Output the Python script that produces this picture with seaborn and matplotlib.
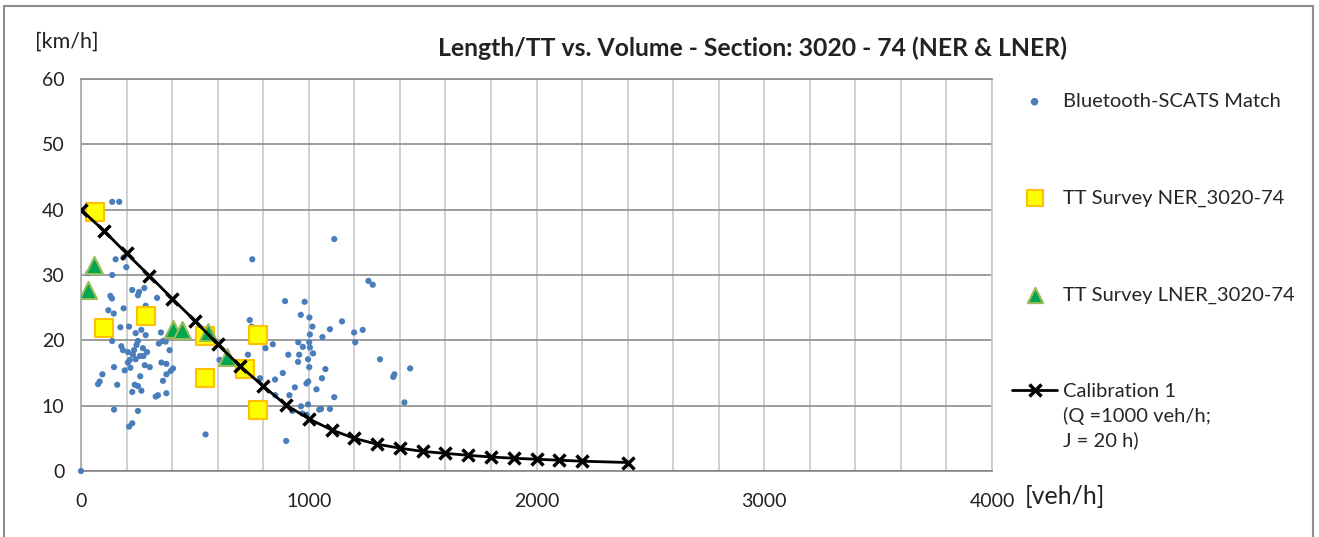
import numpy as np
import pandas as pd
import matplotlib
matplotlib.use("Agg")
import matplotlib.pyplot as plt
import seaborn as sns
from matplotlib.patches import Rectangle

# Bluetooth-SCATS matched observations (volume veh/h, speed km/h)
bt_volume = [0, 137, 168, 32, 137, 152, 187, 199, 225, 255, 278, 250, 129, 136, 334, 284,
             120, 144, 187, 173, 211, 240, 265, 284, 351, 137, 177, 184, 244, 233, 272, 342,
             360, 372, 389, 228, 274, 214, 206, 240, 280, 302, 145, 192, 217, 353, 375, 404,
             394, 375, 94, 82, 75, 159, 260, 236, 250, 225, 265, 360, 338, 328, 375, 145,
             250, 225, 211, 250, 206, 259, 290,
             547, 608, 733, 741, 749, 752, 786, 810, 842, 852, 853, 886, 896, 901, 910, 915,
             929, 939, 954, 953, 958, 965, 966, 974, 972, 982, 990, 991, 997, 997, 998, 1005,
             1002, 1005, 1003, 1002, 1016, 1019, 1034, 1046, 1054, 1093, 1058, 1060, 1073, 1093,
             1112, 1112, 1146, 1199, 1204, 1237, 1262, 1281, 1313, 1376, 1371, 1445, 1420]
bt_speed = [0, 41.2, 41.2, 30.3, 30.0, 32.4, 32.7, 31.2, 27.7, 27.4, 28.0, 26.9, 26.8, 26.4, 26.5, 25.3,
            24.6, 24.1, 24.9, 22.0, 22.1, 21.1, 21.6, 20.8, 21.2, 19.9, 19.1, 18.5, 19.3, 18.5, 18.8, 19.5,
            19.9, 19.8, 18.5, 17.8, 17.6, 17.0, 16.6, 17.1, 16.2, 15.9, 15.9, 15.4, 15.8, 16.6, 16.4, 15.7,
            15.3, 14.8, 14.8, 13.7, 13.3, 13.2, 14.5, 13.2, 13.0, 12.1, 12.3, 13.8, 11.6, 11.4, 11.9, 9.4,
            9.2, 7.3, 6.8, 19.9, 18.2, 17.6, 18.2,
            5.6, 17.0, 17.8, 23.1, 22.1, 32.4, 14.2, 18.8, 19.4, 14.0, 11.6, 15.0, 26.0, 4.6, 17.8, 11.6,
            9.2, 12.8, 19.7, 16.7, 17.8, 23.9, 9.9, 19.0, 8.8, 25.9, 13.4, 8.6, 17.1, 10.2, 13.7, 20.9,
            19.7, 18.9, 23.5, 15.9, 22.1, 18.0, 12.5, 9.4, 9.5, 9.5, 14.2, 20.5, 15.6, 21.7,
            35.5, 11.3, 22.9, 21.2, 19.7, 21.6, 29.1, 28.5, 17.1, 14.8, 14.4, 15.7, 10.5]

# Travel time surveys
ner_volume = [61, 101, 285, 544, 544, 720, 777, 777]
ner_speed = [39.7, 21.9, 23.7, 20.7, 14.2, 15.6, 20.8, 9.3]
lner_volume = [31, 58, 405, 445, 559, 640]
lner_speed = [27.7, 31.5, 21.8, 21.6, 21.2, 17.5]

# Calibration 1 curve
calib_volume = [0, 100, 200, 300, 400, 500, 600, 700, 800, 900, 1000, 1100, 1200, 1300,
                1400, 1500, 1600, 1700, 1800, 1900, 2000, 2100, 2200, 2400]
calib_speed = [40.0, 36.8, 33.3, 29.9, 26.4, 23.0, 19.4, 16.0, 13.0, 10.1, 8.0, 6.3, 5.0, 4.1,
               3.5, 3.0, 2.7, 2.4, 2.15, 1.95, 1.8, 1.65, 1.5, 1.3]

bt = pd.DataFrame({"volume": bt_volume, "speed": bt_speed})
ner = pd.DataFrame({"volume": ner_volume, "speed": ner_speed})
lner = pd.DataFrame({"volume": lner_volume, "speed": lner_speed})
calib = pd.DataFrame({"volume": calib_volume, "speed": calib_speed})

sns.set_theme(style="white")
plt.rcParams["font.family"] = ["Lato", "DejaVu Sans"]

fig = plt.figure(figsize=(13.19, 5.37), dpi=100)
ax = fig.add_axes([81 / 1319, 1 - 471 / 537, (992 - 81) / 1319, (471 - 79) / 537])

sns.scatterplot(data=bt, x="volume", y="speed", ax=ax, color="#4a7ebb", s=20,
                edgecolor="none", label="Bluetooth-SCATS Match", zorder=3, clip_on=False)
sns.scatterplot(data=ner, x="volume", y="speed", ax=ax, color="#ffff00", marker="s", s=150,
                edgecolor="#ffc000", linewidth=1.5, label="TT Survey NER_3020-74", zorder=4)
sns.scatterplot(data=lner, x="volume", y="speed", ax=ax, color="#00a651", marker="^", s=150,
                edgecolor="#9bbb59", linewidth=1.5, label="TT Survey LNER_3020-74", zorder=4)
sns.lineplot(data=calib, x="volume", y="speed", ax=ax, color="black", linewidth=2,
             marker="x", markersize=8, markeredgewidth=2.5, markeredgecolor="black",
             label="Calibration 1\n(Q =1000 veh/h;\nJ = 20 h)", zorder=5)

ax.set_xlim(0, 4000)
ax.set_ylim(0, 60)
ax.set_xticks(np.arange(0, 4001, 1000))
ax.set_xticks(np.arange(0, 4001, 200), minor=True)
ax.set_yticks(np.arange(0, 61, 10))
ax.grid(which="minor", axis="x", color="#c8c8c8", linewidth=1.2)
ax.grid(which="major", axis="x", color="#c8c8c8", linewidth=1.2)
ax.grid(which="major", axis="y", color="#8c8c8c", linewidth=1.2)
ax.set_axisbelow(True)
ax.set_xlabel("")
ax.set_ylabel("")
ax.tick_params(axis="both", which="major", labelsize=14, colors="#222222",
               length=5, width=1, direction="out")
ax.tick_params(axis="x", which="major", pad=11, color="#8c8c8c")
ax.tick_params(axis="y", which="major", pad=7, color="#8c8c8c")
ax.tick_params(axis="x", which="minor", length=0)
ax.spines["left"].set_color("#a6a6a6")
ax.spines["bottom"].set_color("#868686")
ax.spines["right"].set_color("#c8c8c8")
ax.spines["top"].set_color("#8c8c8c")
for s in ax.spines.values():
    s.set_linewidth(1.2)

leg = ax.legend(loc="upper left", frameon=False, fontsize=14.5,
                labelspacing=3.95, handlelength=2.25, handletextpad=0.3, borderaxespad=0)
leg.set_bbox_to_anchor((1.013, 0.985), transform=ax.transAxes)
for h in leg.legend_handles[:3]:
    h.set_sizes([30] if h is leg.legend_handles[0] else [120])
for t in leg.get_texts():
    t.set_linespacing(1.45)
# align each legend handle with the first line of its label
for col in leg._legend_handle_box.get_children():
    for row in col.get_children():
        row.align = "top"

fig.text(752 / 1319, 1 - 48 / 537, "Length/TT vs. Volume - Section: 3020 - 74 (NER & LNER)",
         ha="center", va="center", fontsize=17.8, fontweight="bold", color="#222222")
fig.text(35 / 1319, 1 - 42 / 537, "[km/h]", ha="left", va="center", fontsize=15.5, color="#222222")
fig.text(1025 / 1319, 1 - 497 / 537, "[veh/h]", ha="left", va="center", fontsize=18, color="#222222")

fig.patches.append(Rectangle((4 / 1319, -0.1), 1 - 10 / 1319, 1 + 0.1 - 6 / 537,
                             transform=fig.transFigure, fill=False, edgecolor="#8c8c8c",
                             linewidth=1.5, figure=fig))

fig.savefig("out.png", dpi=100)
